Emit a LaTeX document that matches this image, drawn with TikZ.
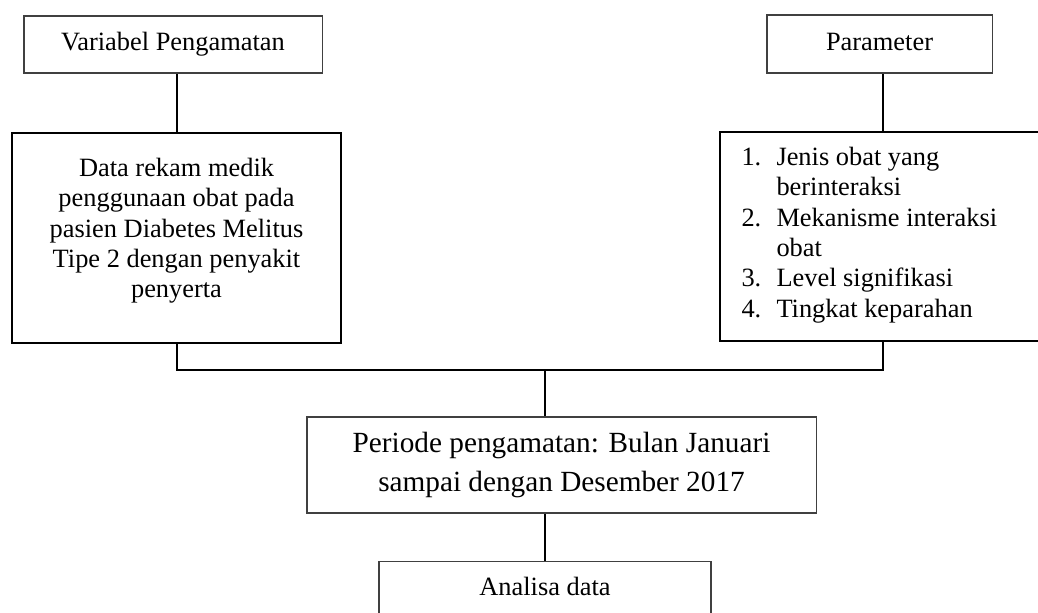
\documentclass[tikz,border=0pt]{standalone}
\usepackage{fontspec}
\setmainfont{Liberation Serif}
\usetikzlibrary{calc}

\begin{document}
\begin{tikzpicture}[x=1pt,y=-1pt,
  thinbox/.style={draw=black!75, line width=0.5pt, inner sep=0pt, font=\fontsize{12}{13.8}\selectfont},
  oneline/.style={text height=8.2pt, text depth=2.6pt},
  thickbox/.style={draw=black, line width=0.9pt, inner sep=0pt},
  link/.style={draw=black, line width=0.9pt}]
  \useasboundingbox (0,0) rectangle (471.8,278.2);

  \coordinate (VP) at (78.64,20.23);
  \coordinate (PR) at (399.77,20.00);
  \coordinate (DT) at (80.23,108.18);
  \coordinate (PM) at (401.14,107.50);
  \coordinate (JN) at (0,168.18);
  \coordinate (PD) at (255.23,211.36);
  \coordinate (AN) at (247.73,255.00);

  % top boxes
  \node[thinbox, oneline, minimum width=135.5pt, minimum height=25.9pt] (var) at (VP) {Variabel Pengamatan};
  \node[thinbox, oneline, minimum width=102.3pt, minimum height=26.4pt] (par) at (PR) {Parameter};

  % middle boxes
  \node[thickbox, minimum width=149.5pt, minimum height=95.45pt] (data) at (DT) {};
  \node[anchor=north, align=center, inner sep=0pt, font=\fontsize{12}{13.8}\selectfont] (datatext) at ($(data.north)+(0,11.6)$)
    {Data rekam medik\\penggunaan obat pada\\pasien Diabetes Melitus\\Tipe 2 dengan penyakit\\penyerta};

  \node[thickbox, minimum width=147.7pt, minimum height=95pt] (param) at (PM) {};
  \node[anchor=north west, inner sep=0pt, font=\fontsize{12}{13.8}\selectfont] (paramtext) at ($(param.north west)+(10,5.8)$)
    {\begin{tabular}{@{}p{15.9pt}@{}l@{}}
      1. & Jenis obat yang\\
         & berinteraksi\\
      2. & Mekanisme interaksi\\
         & obat\\
      3. & Level signifikasi\\
      4. & Tingkat keparahan
    \end{tabular}};

  % bottom boxes
  \node[thinbox, minimum width=231.4pt, minimum height=43.6pt, align=center, font=\fontsize{13.3}{17.5}\selectfont] (periode) at (PD)
    {Periode pengamatan: Bulan Januari\\sampai dengan Desember 2017};
  \node[thinbox, anchor=north, minimum width=150.9pt, text height=8pt, text depth=12pt, inner ysep=7.5pt] (analisa) at (AN) {Analisa data};

  % connectors
  \draw[link] (data.north) -- (data.north |- var.south);
  \draw[link] (param.north) -- (param.north |- par.south);
  \draw[link] (data.south) -- (data.south |- JN) -- (param.south |- JN) -- (param.south);
  \draw[link] (analisa.north |- JN) -- (analisa.north |- periode.north);
  \draw[link] (analisa.north |- periode.south) -- (analisa.north);
\end{tikzpicture}
\end{document}
